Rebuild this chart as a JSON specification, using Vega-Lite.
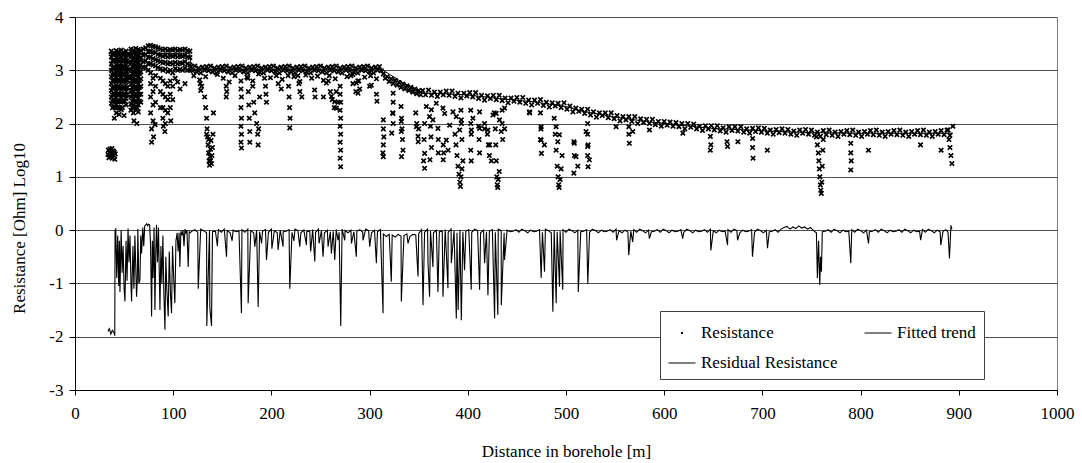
{
"$schema":"https://vega.github.io/schema/vega-lite/v6.json",
"width":982,"height":373,
"autosize":"none",
"padding":{"left":75,"top":17,"right":25,"bottom":73},
"background":"white",
"config":{
"font":"Liberation Serif",
"view":{"stroke":"#808080","strokeWidth":1},
"axis":{"labelFont":"Liberation Serif","titleFont":"Liberation Serif","labelFontSize":17,"titleFontSize":17,"titleFontWeight":"normal","labelColor":"black","titleColor":"black","domainColor":"black","tickColor":"black","domainWidth":1,"tickWidth":1},
"legend":{"labelFont":"Liberation Serif","labelFontSize":17,"labelColor":"black"}
},
"datasets":{
"trend":[{"d":34,"t":3.31},{"d":117,"t":3.32},{"d":118.5,"t":3.02},{"d":200,"t":3.02},{"d":312,"t":3.02},{"d":332,"t":2.79},{"d":354,"t":2.57},{"d":364,"t":2.57},{"d":398,"t":2.54},{"d":432,"t":2.47},{"d":466,"t":2.41},{"d":500,"t":2.32},{"d":514,"t":2.24},{"d":548,"t":2.13},{"d":581,"t":2.04},{"d":615,"t":1.97},{"d":649,"t":1.91},{"d":683,"t":1.88},{"d":717,"t":1.85},{"d":751,"t":1.83},{"d":800,"t":1.82},{"d":894,"t":1.82}],
"resid":[
{"d":33.5,"e":-1.9},{"d":35,"e":-1.85},{"d":36.5,"e":-1.95},{"d":38,"e":-1.88},{"d":39.5,"e":-1.92},{"d":40.5,"e":-1.98},{"d":40.8,"e":0.0},
{"d":41.5,"e":0.02},{"d":42.5,"e":-0.9},{"d":43.5,"e":-0.1},{"d":44.5,"e":-1.05},{"d":45.2,"e":-0.2},{"d":45.8,"e":-1.16},{"d":47,"e":0.0},{"d":48,"e":-0.8},{"d":49,"e":-0.3},{"d":50,"e":-1.1},{"d":50.9,"e":-1.34},{"d":52,"e":-0.2},{"d":53,"e":-0.95},{"d":54,"e":0.03},{"d":55,"e":-0.6},{"d":56,"e":-0.1},{"d":57,"e":-1.0},{"d":57.6,"e":-1.34},{"d":59,"e":-0.3},{"d":60,"e":-1.1},{"d":61,"e":-0.1},{"d":62.7,"e":-1.25},{"d":63.5,"e":-0.9},{"d":64,"e":0.02},{"d":65,"e":-1.0},{"d":66.1,"e":-0.94},{"d":67,"e":-0.1},{"d":67.8,"e":-0.44},{"d":69,"e":0.05},{"d":70,"e":-0.3},{"d":71,"e":0.08},
{"d":72,"e":0.1},{"d":73,"e":0.12},{"d":74,"e":0.08},{"d":75,"e":0.11},{"d":76,"e":0.1},{"d":77,"e":-0.3},{"d":78,"e":-1.62},{"d":78.8,"e":-0.2},{"d":79.5,"e":-0.9},{"d":80.5,"e":0.05},{"d":81.4,"e":-1.5},{"d":82.3,"e":-0.4},{"d":83,"e":0.1},{"d":84,"e":-0.6},{"d":85,"e":0.05},{"d":86.5,"e":-1.5},{"d":87.5,"e":-0.3},{"d":88.5,"e":-1.0},{"d":89.5,"e":-0.1},{"d":90.5,"e":-1.2},{"d":91.6,"e":-1.87},{"d":92.5,"e":-0.5},{"d":93.5,"e":-1.1},{"d":94.9,"e":-1.62},{"d":96,"e":-0.4},{"d":97.2,"e":-1.2},{"d":98.3,"e":-1.56},{"d":99.3,"e":-0.3},{"d":100.5,"e":-0.9},{"d":101.7,"e":-1.37},{"d":102.8,"e":-0.2},{"d":104,"e":-0.05},{"d":105,"e":-0.4},{"d":106,"e":-0.05},{"d":106.8,"e":-0.69},{"d":107.8,"e":-0.02},{"d":109,"e":-0.1},{"d":110,"e":0.0},{"d":111,"e":-0.3},{"d":112,"e":0.02},{"d":113,"e":-0.05},{"d":114,"e":0.0},{"d":115.3,"e":-0.69},{"d":116.3,"e":-0.03},{"d":117.3,"e":-0.05},
{"d":119,"e":-0.02},{"d":122,"e":0.01},{"d":125,"e":-0.04},{"d":128,"e":0.02},{"d":131,"e":-0.01},{"d":134,"e":-0.05},{"d":137,"e":0},{"d":140,"e":-0.03},
{"d":143,"e":-0.02},{"d":146,"e":0.01},{"d":149,"e":-0.04},{"d":152,"e":0.02},{"d":155,"e":-0.01},{"d":158,"e":-0.05},{"d":161,"e":0},{"d":164,"e":-0.03},
{"d":167,"e":-0.02},{"d":170,"e":0.01},{"d":173,"e":-0.04},{"d":176,"e":0.02},{"d":179,"e":-0.01},{"d":182,"e":-0.05},{"d":185,"e":0},{"d":188,"e":-0.03},
{"d":191,"e":-0.02},{"d":194,"e":0.01},{"d":197,"e":-0.04},{"d":200,"e":0.02},{"d":203,"e":-0.01},{"d":206,"e":-0.05},{"d":209,"e":0},{"d":212,"e":-0.03},
{"d":215,"e":-0.02},{"d":218,"e":0.01},{"d":221,"e":-0.04},{"d":224,"e":0.02},{"d":227,"e":-0.01},{"d":230,"e":-0.05},{"d":233,"e":0},{"d":236,"e":-0.03},
{"d":239,"e":-0.02},{"d":242,"e":0.01},{"d":245,"e":-0.04},{"d":248,"e":0.02},{"d":251,"e":-0.01},{"d":254,"e":-0.05},{"d":257,"e":0},{"d":260,"e":-0.03},
{"d":263,"e":-0.02},{"d":266,"e":0.01},{"d":269,"e":-0.04},{"d":272,"e":0.02},{"d":275,"e":-0.01},{"d":278,"e":-0.05},{"d":281,"e":0},{"d":284,"e":-0.03},
{"d":287,"e":-0.02},{"d":290,"e":0.01},{"d":293,"e":-0.04},{"d":296,"e":0.02},{"d":299,"e":-0.01},{"d":302,"e":-0.05},{"d":305,"e":0},{"d":308,"e":-0.03},
{"d":311,"e":0.01},
{"d":314,"e":-0.07},{"d":317,"e":-0.12},{"d":320,"e":-0.08},{"d":323,"e":-0.09},{"d":326,"e":-0.13},{"d":329,"e":-0.08},{"d":332,"e":-0.11},{"d":335,"e":-0.1},{"d":338,"e":-0.07},{"d":341,"e":-0.12},{"d":344,"e":-0.08},{"d":347,"e":-0.09},{"d":350,"e":-0.06},
{"d":353,"e":0.01},{"d":356,"e":-0.04},{"d":359,"e":0.02},{"d":362,"e":-0.01},{"d":365,"e":-0.05},{"d":368,"e":0},{"d":371,"e":-0.03},
{"d":374,"e":-0.02},{"d":377,"e":0.01},{"d":380,"e":-0.04},{"d":383,"e":0.02},{"d":386,"e":-0.01},{"d":389,"e":-0.05},{"d":392,"e":0},{"d":395,"e":-0.03},
{"d":398,"e":-0.02},{"d":401,"e":0.01},{"d":404,"e":-0.04},{"d":407,"e":0.02},{"d":410,"e":-0.01},{"d":413,"e":-0.05},{"d":416,"e":0},{"d":419,"e":-0.03},
{"d":422,"e":-0.02},{"d":425,"e":0.01},{"d":428,"e":-0.04},{"d":431,"e":0.02},{"d":434,"e":-0.01},{"d":437,"e":-0.05},{"d":440,"e":0},{"d":443,"e":-0.03},
{"d":446,"e":-0.02},{"d":449,"e":0.01},{"d":452,"e":-0.04},{"d":455,"e":0.02},{"d":458,"e":-0.01},{"d":461,"e":-0.05},{"d":464,"e":0},{"d":467,"e":-0.03},
{"d":470,"e":-0.02},{"d":473,"e":0.01},{"d":476,"e":-0.04},{"d":479,"e":0.02},{"d":482,"e":-0.01},{"d":485,"e":-0.05},{"d":488,"e":0},{"d":491,"e":-0.03},
{"d":494,"e":-0.02},{"d":497,"e":0.01},{"d":500,"e":-0.04},{"d":503,"e":0.02},{"d":506,"e":-0.01},{"d":509,"e":-0.05},{"d":512,"e":0},{"d":515,"e":-0.03},
{"d":518,"e":-0.02},{"d":521,"e":0.01},{"d":524,"e":-0.04},{"d":527,"e":0.02},{"d":530,"e":-0.01},{"d":533,"e":-0.05},{"d":536,"e":0},{"d":539,"e":-0.03},
{"d":542,"e":-0.02},{"d":545,"e":0.01},{"d":548,"e":-0.04},{"d":551,"e":0.02},{"d":554,"e":-0.01},{"d":557,"e":-0.05},{"d":560,"e":0},{"d":563,"e":-0.03},
{"d":566,"e":-0.02},{"d":569,"e":0.01},{"d":572,"e":-0.04},{"d":575,"e":0.02},{"d":578,"e":-0.01},{"d":581,"e":-0.05},{"d":584,"e":0},{"d":587,"e":-0.03},
{"d":590,"e":-0.02},{"d":593,"e":0.01},{"d":596,"e":-0.04},{"d":599,"e":0.02},{"d":602,"e":-0.01},{"d":605,"e":-0.05},{"d":608,"e":0},{"d":611,"e":-0.03},
{"d":614,"e":-0.02},{"d":617,"e":0.01},{"d":620,"e":-0.04},{"d":623,"e":0.02},{"d":626,"e":-0.01},{"d":629,"e":-0.05},{"d":632,"e":0},{"d":635,"e":-0.03},
{"d":638,"e":-0.02},{"d":641,"e":0.01},{"d":644,"e":-0.04},{"d":647,"e":0.02},{"d":650,"e":-0.01},{"d":653,"e":-0.05},{"d":656,"e":0},{"d":659,"e":-0.03},
{"d":662,"e":-0.02},{"d":665,"e":0.01},{"d":668,"e":-0.04},{"d":671,"e":0.02},{"d":674,"e":-0.01},{"d":677,"e":-0.05},{"d":680,"e":0},{"d":683,"e":-0.03},
{"d":686,"e":-0.02},{"d":689,"e":0.01},{"d":692,"e":-0.04},{"d":695,"e":0.02},{"d":698,"e":-0.01},{"d":701,"e":-0.05},{"d":704,"e":0},{"d":707,"e":-0.03},
{"d":710,"e":-0.02},{"d":713,"e":0.01},{"d":716,"e":-0.04},{"d":719,"e":0.02},
{"d":722,"e":0.05},{"d":725,"e":0.07},{"d":728,"e":0.02},{"d":731,"e":0.06},{"d":734,"e":0.03},{"d":737,"e":0.08},{"d":740,"e":0.04},{"d":743,"e":0.06},{"d":746,"e":0.02},{"d":749,"e":0.05},
{"d":752,"e":-0.01},{"d":755,"e":-0.05},{"d":757.2,"e":-0.2},{"d":761,"e":-0.03},
{"d":764,"e":-0.02},{"d":767,"e":0.01},{"d":770,"e":-0.04},{"d":773,"e":0.02},{"d":776,"e":-0.01},{"d":779,"e":-0.05},{"d":782,"e":0},{"d":785,"e":-0.03},
{"d":788,"e":-0.02},{"d":791,"e":0.01},{"d":794,"e":-0.04},{"d":797,"e":0.02},{"d":800,"e":-0.01},{"d":803,"e":-0.05},{"d":806,"e":0},{"d":809,"e":-0.03},
{"d":812,"e":-0.02},{"d":815,"e":0.01},{"d":818,"e":-0.04},{"d":821,"e":0.02},{"d":824,"e":-0.01},{"d":827,"e":-0.05},{"d":830,"e":0},{"d":833,"e":-0.03},
{"d":836,"e":-0.02},{"d":839,"e":0.01},{"d":842,"e":-0.04},{"d":845,"e":0.02},{"d":848,"e":-0.01},{"d":851,"e":-0.05},{"d":854,"e":0},{"d":857,"e":-0.03},
{"d":860,"e":-0.02},{"d":863,"e":0.01},{"d":866,"e":-0.04},{"d":869,"e":0.02},{"d":872,"e":-0.01},{"d":875,"e":-0.05},{"d":878,"e":0},{"d":881,"e":-0.03},
{"d":884,"e":-0.02},{"d":887,"e":0.01},{"d":889,"e":-0.04},{"d":893,"e":0.02},
{"d":125.5,"e":-1.1},{"d":134.2,"e":-1.8},{"d":137.3,"e":-1.45},{"d":139,"e":-1.8},{"d":145,"e":-0.3},{"d":154.3,"e":-0.5},{"d":160,"e":-0.2},{"d":169.5,"e":-1.56},{"d":176.3,"e":-1.37},{"d":183.1,"e":-0.31},{"d":186.5,"e":-1.44},{"d":190,"e":-0.25},{"d":195,"e":-0.56},{"d":200.5,"e":-0.35},{"d":206.8,"e":-0.37},{"d":211.9,"e":-0.31},{"d":218.7,"e":-1.1},{"d":223,"e":-0.2},{"d":228.9,"e":-0.31},{"d":235.7,"e":-0.28},{"d":240,"e":-0.4},{"d":244.2,"e":-0.59},{"d":248.5,"e":-0.25},{"d":252.6,"e":-0.5},{"d":257.7,"e":-0.31},{"d":261.1,"e":-0.44},{"d":264.5,"e":-0.56},{"d":267.9,"e":-0.19},{"d":270.6,"e":-1.8},{"d":274.7,"e":-0.19},{"d":281.5,"e":-0.25},{"d":286.5,"e":-0.5},{"d":293.3,"e":-0.19},{"d":300.1,"e":-0.31},{"d":306.9,"e":-0.62},{"d":313.7,"e":-1.56},{"d":322.1,"e":-0.97},{"d":332.3,"e":-1.34},{"d":339.1,"e":-0.25},{"d":349.3,"e":-0.87},{"d":354.4,"e":-1.41},{"d":359.5,"e":-0.62},{"d":361.1,"e":-1.25},{"d":364.5,"e":-0.69},{"d":369.6,"e":-1.16},{"d":374.7,"e":-1.25},{"d":379.8,"e":-1.09},{"d":383.2,"e":-0.62},{"d":388.3,"e":-1.66},{"d":390.2,"e":-1.5},{"d":393.4,"e":-1.69},{"d":396.7,"e":-0.75},{"d":403.5,"e":-1.12},{"d":412,"e":-1.12},{"d":417.1,"e":-0.62},{"d":420.5,"e":-1.22},{"d":427.3,"e":-1.66},{"d":430.6,"e":-1.59},{"d":434.1,"e":-1.41},{"d":437.4,"e":-0.56},{"d":474.7,"e":-0.9},{"d":478.1,"e":-0.78},{"d":486.6,"e":-1.53},{"d":490,"e":-1.37},{"d":493.4,"e":-1.06},{"d":496.7,"e":-1.12},{"d":512.5,"e":-1.16},{"d":522.2,"e":-1.0},{"d":551.5,"e":-0.19},{"d":563.9,"e":-0.47},{"d":567.9,"e":-0.22},{"d":584.9,"e":-0.16},{"d":618.8,"e":-0.16},{"d":647.5,"e":-0.38},{"d":664.5,"e":-0.28},{"d":674.7,"e":-0.19},{"d":689.9,"e":-0.5},{"d":705.2,"e":-0.34},{"d":756,"e":-0.9},{"d":758.4,"e":-1.03},{"d":759.3,"e":-0.5},{"d":760.1,"e":-0.78},{"d":790,"e":-0.62},{"d":808,"e":-0.25},{"d":861.2,"e":-0.19},{"d":881.6,"e":-0.28},{"d":890.5,"e":-0.53},{"d":892,"e":0.09}
],
"res":[
{"d":33.5,"r":1.42},{"d":34,"r":1.5},{"d":34.5,"r":1.36},{"d":35,"r":1.46},{"d":35.5,"r":1.52},{"d":36,"r":1.38},{"d":36.5,"r":1.47},{"d":37,"r":1.41},{"d":37.5,"r":1.53},{"d":38,"r":1.35},{"d":38.5,"r":1.44},{"d":39,"r":1.49},{"d":39.5,"r":1.4},{"d":40,"r":1.46},{"d":40.5,"r":1.33},{"d":41,"r":1.43},
{"d":37,"r":3.36},{"d":37,"r":3.25},{"d":37,"r":3.12},{"d":37,"r":3.0},{"d":37,"r":2.88},{"d":37,"r":2.75},{"d":37,"r":2.62},{"d":37,"r":2.5},{"d":37,"r":2.38},
{"d":39.5,"r":3.33},{"d":39.5,"r":3.2},{"d":39.5,"r":3.07},{"d":39.5,"r":2.95},{"d":39.5,"r":2.82},{"d":39.5,"r":2.7},{"d":39.5,"r":2.57},{"d":39.5,"r":2.45},{"d":39.5,"r":2.32},{"d":40,"r":2.1},
{"d":42,"r":3.37},{"d":42,"r":3.24},{"d":42,"r":3.1},{"d":42,"r":2.98},{"d":42,"r":2.85},{"d":42,"r":2.72},{"d":42,"r":2.6},{"d":42,"r":2.48},{"d":42,"r":2.35},{"d":42,"r":2.2},
{"d":44.5,"r":3.35},{"d":44.5,"r":3.22},{"d":44.5,"r":3.09},{"d":44.5,"r":2.96},{"d":44.5,"r":2.83},{"d":44.5,"r":2.7},{"d":44.5,"r":2.56},{"d":44.5,"r":2.42},{"d":44.5,"r":2.3},{"d":45,"r":2.17},
{"d":47,"r":3.38},{"d":47,"r":3.26},{"d":47,"r":3.13},{"d":47,"r":3.0},{"d":47,"r":2.88},{"d":47,"r":2.76},{"d":47,"r":2.63},{"d":47,"r":2.5},{"d":47,"r":2.4},{"d":47,"r":2.26},
{"d":49.5,"r":3.34},{"d":49.5,"r":3.21},{"d":49.5,"r":3.08},{"d":49.5,"r":2.95},{"d":49.5,"r":2.82},{"d":49.5,"r":2.68},{"d":49.5,"r":2.55},{"d":49.5,"r":2.43},{"d":50,"r":2.15},
{"d":52,"r":3.36},{"d":52,"r":3.23},{"d":52,"r":3.1},{"d":52,"r":2.97},{"d":52,"r":2.85},{"d":52,"r":2.72},{"d":52,"r":2.6},{"d":52,"r":2.47},{"d":52,"r":2.35},
{"d":54.5,"r":3.3},{"d":54.5,"r":3.15},{"d":54.5,"r":3.0},{"d":54.5,"r":2.85},
{"d":57,"r":3.4},{"d":57,"r":3.27},{"d":57,"r":3.14},{"d":57,"r":3.01},{"d":57,"r":2.88},{"d":57,"r":2.75},{"d":57,"r":2.62},{"d":57,"r":2.5},{"d":57,"r":2.37},{"d":57,"r":2.25},
{"d":59.5,"r":3.38},{"d":59.5,"r":3.25},{"d":59.5,"r":3.12},{"d":59.5,"r":2.99},{"d":59.5,"r":2.86},{"d":59.5,"r":2.73},{"d":59.5,"r":2.6},{"d":59.5,"r":2.47},{"d":59.5,"r":2.34},{"d":59.5,"r":2.2},{"d":60,"r":2.05},
{"d":62,"r":3.41},{"d":62,"r":3.28},{"d":62,"r":3.15},{"d":62,"r":3.02},{"d":62,"r":2.9},{"d":62,"r":2.77},{"d":62,"r":2.64},{"d":62,"r":2.51},{"d":62,"r":2.39},{"d":62,"r":2.26},
{"d":64.5,"r":3.39},{"d":64.5,"r":3.26},{"d":64.5,"r":3.13},{"d":64.5,"r":3.0},{"d":64.5,"r":2.87},{"d":64.5,"r":2.74},{"d":64.5,"r":2.61},{"d":64.5,"r":2.48},{"d":64.5,"r":2.35},{"d":64.5,"r":2.22},{"d":63,"r":2.0},
{"d":67,"r":3.37},{"d":67,"r":3.24},{"d":67,"r":3.1},{"d":67,"r":2.97},{"d":67,"r":2.84},{"d":67,"r":2.7},{"d":67,"r":2.55},{"d":67,"r":2.4},
{"d":38.2,"r":3.3},{"d":38.2,"r":3.18},{"d":38.2,"r":3.05},{"d":38.2,"r":2.92},{"d":38.2,"r":2.8},{"d":38.2,"r":2.67},{"d":38.2,"r":2.54},{"d":38.2,"r":2.42},{"d":38.2,"r":2.3},
{"d":40.7,"r":3.3},{"d":40.7,"r":3.18},{"d":40.7,"r":3.05},{"d":40.7,"r":2.92},{"d":40.7,"r":2.8},{"d":40.7,"r":2.67},{"d":40.7,"r":2.54},{"d":40.7,"r":2.42},{"d":40.7,"r":2.3},
{"d":43.2,"r":3.3},{"d":43.2,"r":3.18},{"d":43.2,"r":3.05},{"d":43.2,"r":2.92},{"d":43.2,"r":2.8},{"d":43.2,"r":2.67},{"d":43.2,"r":2.54},{"d":43.2,"r":2.42},{"d":43.2,"r":2.3},
{"d":45.7,"r":3.3},{"d":45.7,"r":3.18},{"d":45.7,"r":3.05},{"d":45.7,"r":2.92},{"d":45.7,"r":2.8},{"d":45.7,"r":2.67},{"d":45.7,"r":2.54},{"d":45.7,"r":2.42},{"d":45.7,"r":2.3},
{"d":48.2,"r":3.3},{"d":48.2,"r":3.18},{"d":48.2,"r":3.05},{"d":48.2,"r":2.92},{"d":48.2,"r":2.8},{"d":48.2,"r":2.67},{"d":48.2,"r":2.54},{"d":48.2,"r":2.42},{"d":48.2,"r":2.3},
{"d":50.7,"r":3.3},{"d":50.7,"r":3.18},{"d":50.7,"r":3.05},{"d":50.7,"r":2.92},{"d":50.7,"r":2.8},{"d":50.7,"r":2.67},{"d":50.7,"r":2.54},{"d":50.7,"r":2.42},
{"d":53.2,"r":3.3},{"d":53.2,"r":3.18},{"d":53.2,"r":3.05},{"d":53.2,"r":2.92},{"d":53.2,"r":2.8},{"d":53.2,"r":2.67},{"d":53.2,"r":2.54},
{"d":58.2,"r":3.33},{"d":58.2,"r":3.2},{"d":58.2,"r":3.07},{"d":58.2,"r":2.94},{"d":58.2,"r":2.81},{"d":58.2,"r":2.68},{"d":58.2,"r":2.55},{"d":58.2,"r":2.42},{"d":58.2,"r":2.3},
{"d":60.7,"r":3.33},{"d":60.7,"r":3.2},{"d":60.7,"r":3.07},{"d":60.7,"r":2.94},{"d":60.7,"r":2.81},{"d":60.7,"r":2.68},{"d":60.7,"r":2.55},{"d":60.7,"r":2.42},{"d":60.7,"r":2.3},
{"d":63.2,"r":3.33},{"d":63.2,"r":3.2},{"d":63.2,"r":3.07},{"d":63.2,"r":2.94},{"d":63.2,"r":2.81},{"d":63.2,"r":2.68},{"d":63.2,"r":2.55},{"d":63.2,"r":2.42},{"d":63.2,"r":2.3},
{"d":65.7,"r":3.33},{"d":65.7,"r":3.2},{"d":65.7,"r":3.07},{"d":65.7,"r":2.94},{"d":65.7,"r":2.81},{"d":65.7,"r":2.68},{"d":65.7,"r":2.55},{"d":65.7,"r":2.42},
{"d":69.5,"r":3.4},{"d":69.5,"r":3.28},{"d":69.5,"r":3.16},{"d":69.5,"r":3.05},
{"d":72,"r":3.42},{"d":72,"r":3.3},{"d":72,"r":3.18},{"d":72,"r":3.06},
{"d":74.5,"r":3.46},{"d":74.5,"r":3.35},{"d":74.5,"r":3.24},{"d":74.5,"r":3.12},{"d":74.5,"r":3.0},
{"d":77,"r":3.47},{"d":77,"r":3.36},{"d":77,"r":3.25},{"d":77,"r":3.13},{"d":77,"r":2.95},{"d":77,"r":2.75},{"d":77,"r":2.5},{"d":77,"r":2.2},{"d":78,"r":1.9},{"d":78,"r":1.65},
{"d":79.5,"r":3.45},{"d":79.5,"r":3.34},{"d":79.5,"r":3.22},{"d":79.5,"r":3.1},{"d":79.5,"r":2.85},{"d":79.5,"r":2.6},{"d":79.5,"r":2.35},{"d":79.5,"r":2.05},{"d":80,"r":1.75},
{"d":82,"r":3.44},{"d":82,"r":3.33},{"d":82,"r":3.2},{"d":82,"r":3.08},{"d":82,"r":2.9},{"d":82,"r":2.7},{"d":82,"r":2.4},{"d":81.5,"r":1.98},
{"d":84.5,"r":3.42},{"d":84.5,"r":3.3},{"d":84.5,"r":3.18},{"d":84.5,"r":3.05},
{"d":87,"r":3.4},{"d":87,"r":3.28},{"d":87,"r":3.16},{"d":87,"r":3.03},{"d":87,"r":2.85},{"d":87,"r":2.6},{"d":87,"r":2.3},
{"d":89.5,"r":3.38},{"d":89.5,"r":3.26},{"d":89.5,"r":3.14},{"d":89.5,"r":3.0},{"d":89.5,"r":2.8},{"d":89.5,"r":2.55},{"d":89.5,"r":2.3},{"d":89.5,"r":2.1},{"d":90,"r":1.95},
{"d":92,"r":3.4},{"d":92,"r":3.28},{"d":92,"r":3.15},{"d":92,"r":3.02},{"d":92,"r":2.75},{"d":92,"r":2.5},{"d":92,"r":2.25},{"d":92,"r":2.0},{"d":91.5,"r":1.85},
{"d":94.5,"r":3.37},{"d":94.5,"r":3.25},{"d":94.5,"r":3.12},{"d":94.5,"r":2.98},{"d":94.5,"r":2.7},{"d":94.5,"r":2.45},{"d":94.5,"r":2.2},
{"d":97,"r":3.39},{"d":97,"r":3.27},{"d":97,"r":3.14},{"d":97,"r":3.0},{"d":97,"r":2.8},{"d":97,"r":2.55},{"d":97,"r":2.3},{"d":97.5,"r":2.05},
{"d":99.5,"r":3.38},{"d":99.5,"r":3.26},{"d":99.5,"r":3.12},{"d":99.5,"r":2.95},{"d":99.5,"r":2.7},{"d":99.5,"r":2.45},
{"d":102,"r":3.4},{"d":102,"r":3.28},{"d":102,"r":3.15},{"d":102,"r":3.03},{"d":102,"r":2.85},
{"d":104.5,"r":3.37},{"d":104.5,"r":3.25},{"d":104.5,"r":3.12},{"d":104.5,"r":3.0},{"d":104.5,"r":2.78},
{"d":107,"r":3.39},{"d":107,"r":3.27},{"d":107,"r":3.14},{"d":107,"r":3.02},{"d":107,"r":2.65},
{"d":109.5,"r":3.38},{"d":109.5,"r":3.26},{"d":109.5,"r":3.13},{"d":109.5,"r":3.0},
{"d":112,"r":3.4},{"d":112,"r":3.28},{"d":112,"r":3.16},{"d":112,"r":3.04},{"d":112,"r":2.75},
{"d":114.5,"r":3.37},{"d":114.5,"r":3.25},{"d":114.5,"r":3.12},{"d":114.5,"r":3.0},
{"d":117,"r":3.36},{"d":117,"r":3.24},{"d":117,"r":3.1},{"d":117,"r":3.0},
{"d":118,"r":3.07},{"d":120,"r":2.99},{"d":122,"r":3.08},{"d":124,"r":2.97},{"d":126,"r":3.04},{"d":128,"r":2.95},{"d":130,"r":3.06},{"d":132,"r":3.0},
{"d":134,"r":3.07},{"d":136,"r":2.99},{"d":138,"r":3.08},{"d":140,"r":2.97},{"d":142,"r":3.04},{"d":144,"r":2.95},{"d":146,"r":3.06},{"d":148,"r":3.0},
{"d":150,"r":3.07},{"d":152,"r":2.99},{"d":154,"r":3.08},{"d":156,"r":2.97},{"d":158,"r":3.04},{"d":160,"r":2.95},{"d":162,"r":3.06},{"d":164,"r":3.0},
{"d":166,"r":3.07},{"d":168,"r":2.99},{"d":170,"r":3.08},{"d":172,"r":2.97},{"d":174,"r":3.04},{"d":176,"r":2.95},{"d":178,"r":3.06},{"d":180,"r":3.0},
{"d":182,"r":3.07},{"d":184,"r":2.99},{"d":186,"r":3.08},{"d":188,"r":2.97},{"d":190,"r":3.04},{"d":192,"r":2.95},{"d":194,"r":3.06},{"d":196,"r":3.0},
{"d":198,"r":3.07},{"d":200,"r":2.99},{"d":202,"r":3.08},{"d":204,"r":2.97},{"d":206,"r":3.04},{"d":208,"r":2.95},{"d":210,"r":3.06},{"d":212,"r":3.0},
{"d":214,"r":3.07},{"d":216,"r":2.99},{"d":218,"r":3.08},{"d":220,"r":2.97},{"d":222,"r":3.04},{"d":224,"r":2.95},{"d":226,"r":3.06},{"d":228,"r":3.0},
{"d":230,"r":3.07},{"d":232,"r":2.99},{"d":234,"r":3.08},{"d":236,"r":2.97},{"d":238,"r":3.04},{"d":240,"r":2.95},{"d":242,"r":3.06},{"d":244,"r":3.0},
{"d":246,"r":3.07},{"d":248,"r":2.99},{"d":250,"r":3.08},{"d":252,"r":2.97},{"d":254,"r":3.04},{"d":256,"r":2.95},{"d":258,"r":3.06},{"d":260,"r":3.0},
{"d":262,"r":3.07},{"d":264,"r":2.99},{"d":266,"r":3.08},{"d":268,"r":2.97},{"d":270,"r":3.04},{"d":272,"r":2.95},{"d":274,"r":3.06},{"d":276,"r":3.0},
{"d":278,"r":3.07},{"d":280,"r":2.99},{"d":282,"r":3.08},{"d":284,"r":2.97},{"d":286,"r":3.04},{"d":288,"r":2.95},{"d":290,"r":3.06},{"d":292,"r":3.0},
{"d":294,"r":3.07},{"d":296,"r":2.99},{"d":298,"r":3.08},{"d":300,"r":2.97},{"d":302,"r":3.04},{"d":304,"r":2.95},{"d":306,"r":3.06},{"d":308,"r":3.0},
{"d":310,"r":3.07},{"d":312,"r":2.99},
{"d":121,"r":2.9},{"d":127,"r":2.82},{"d":133,"r":2.88},{"d":145,"r":2.92},{"d":151,"r":2.85},{"d":157,"r":2.78},{"d":163,"r":2.9},{"d":175,"r":2.87},{"d":181,"r":2.8},{"d":187,"r":2.93},{"d":199,"r":2.86},{"d":205,"r":2.9},{"d":211,"r":2.83},{"d":223,"r":2.88},{"d":229,"r":2.79},{"d":235,"r":2.91},{"d":241,"r":2.85},{"d":247,"r":2.89},{"d":253,"r":2.81},{"d":259,"r":2.9},{"d":265,"r":2.84},{"d":277,"r":2.88},{"d":283,"r":2.92},{"d":289,"r":2.8},{"d":295,"r":2.87},{"d":301,"r":2.9},{"d":307,"r":2.84},
{"d":127.5,"r":2.75},{"d":128,"r":2.62},{"d":129,"r":2.7},
{"d":132,"r":2.5},{"d":133,"r":2.3},{"d":134,"r":2.1},{"d":134.5,"r":1.9},{"d":135,"r":1.75},{"d":135.5,"r":1.6},{"d":136,"r":1.45},{"d":136.5,"r":1.3},{"d":137,"r":1.22},{"d":137.5,"r":1.38},{"d":138,"r":1.52},{"d":138.5,"r":1.68},{"d":139,"r":1.25},{"d":139.5,"r":1.4},{"d":140,"r":1.55},{"d":140.5,"r":1.8},{"d":141,"r":2.2},{"d":136,"r":1.7},{"d":138,"r":1.3},{"d":134,"r":1.8},
{"d":154,"r":2.7},{"d":154.5,"r":2.6},{"d":154,"r":2.5},
{"d":169,"r":2.8},{"d":169,"r":2.65},{"d":169.5,"r":2.5},{"d":169,"r":2.3},{"d":169.5,"r":2.1},{"d":169,"r":1.95},{"d":169.5,"r":1.8},{"d":169,"r":1.65},{"d":169.5,"r":1.54},
{"d":176,"r":2.85},{"d":176.5,"r":2.6},{"d":177,"r":2.35},{"d":177.5,"r":2.1},{"d":178,"r":1.85},{"d":178,"r":1.65},{"d":181,"r":2.7},{"d":182,"r":2.4},{"d":183,"r":2.2},{"d":185,"r":2.0},{"d":186,"r":1.8},{"d":186.5,"r":1.6},{"d":187,"r":1.9},{"d":188,"r":2.5},
{"d":193,"r":2.85},{"d":194,"r":2.7},{"d":194.5,"r":2.55},{"d":195,"r":2.4},
{"d":207,"r":2.75},{"d":210,"r":2.65},
{"d":217,"r":2.9},{"d":217.5,"r":2.7},{"d":218,"r":2.5},{"d":218.5,"r":2.3},{"d":219,"r":2.1},{"d":218.7,"r":1.92},
{"d":227,"r":2.9},{"d":228,"r":2.75},{"d":229,"r":2.6},{"d":231,"r":2.5},
{"d":244,"r":2.63},{"d":244.5,"r":2.5},{"d":253,"r":2.5},
{"d":258,"r":2.8},{"d":260,"r":2.6},{"d":262,"r":2.45},{"d":264,"r":2.3},{"d":266,"r":2.6},{"d":268,"r":2.4},
{"d":270,"r":2.7},{"d":270,"r":2.55},{"d":270.5,"r":2.4},{"d":270,"r":2.25},{"d":270.5,"r":2.1},{"d":270,"r":1.95},{"d":270.5,"r":1.8},{"d":270,"r":1.65},{"d":270.5,"r":1.5},{"d":270,"r":1.35},{"d":270.5,"r":1.19},
{"d":281,"r":2.9},{"d":283,"r":2.75},{"d":286,"r":2.6},{"d":288,"r":2.8},{"d":290,"r":2.65},
{"d":300,"r":2.7},{"d":307,"r":2.55},{"d":307.5,"r":2.42},
{"d":314,"r":2.07},{"d":314,"r":1.9},{"d":314.5,"r":1.75},{"d":314,"r":1.6},{"d":313.5,"r":1.45},{"d":314,"r":1.38},
{"d":324,"r":2.57},{"d":324,"r":2.4},{"d":323.5,"r":2.2},{"d":324,"r":2.0},{"d":322.5,"r":1.82},
{"d":332,"r":2.32},{"d":332.5,"r":2.1},{"d":333,"r":1.9},{"d":333.5,"r":1.7},{"d":334,"r":1.5},{"d":332.5,"r":1.38},
{"d":347,"r":2.2},{"d":348,"r":2.0},{"d":350,"r":1.9},{"d":349.5,"r":1.66},
{"d":356,"r":2.0},{"d":355.5,"r":1.7},{"d":356,"r":1.44},{"d":355,"r":1.3},{"d":356,"r":1.16},
{"d":361,"r":2.13},{"d":362,"r":1.95},{"d":362.5,"r":1.75},{"d":363,"r":1.55},{"d":361.5,"r":1.32},
{"d":370,"r":1.7},{"d":370,"r":1.45},{"d":375,"r":1.6},{"d":375.5,"r":1.45},{"d":375,"r":1.32},{"d":380,"r":1.5},
{"d":387,"r":1.8},{"d":388,"r":1.6},{"d":389,"r":1.4},{"d":390,"r":1.2},{"d":391,"r":1.05},{"d":392,"r":0.9},{"d":392.5,"r":0.82},{"d":393,"r":1.0},{"d":394,"r":1.15},{"d":395,"r":1.3},{"d":393,"r":2.25},{"d":393.5,"r":2.0},{"d":394,"r":1.7},
{"d":403,"r":2.25},{"d":403,"r":2.0},{"d":403.5,"r":1.8},{"d":403,"r":1.5},{"d":403.5,"r":1.3},
{"d":411,"r":1.95},{"d":411.5,"r":1.7},{"d":412,"r":1.45},{"d":417,"r":2.0},{"d":417,"r":1.9},
{"d":420,"r":1.8},{"d":421,"r":1.6},{"d":422,"r":1.4},{"d":424,"r":1.3},
{"d":427,"r":2.2},{"d":428,"r":1.9},{"d":428.5,"r":1.6},{"d":429,"r":1.3},{"d":429.5,"r":1.0},{"d":430,"r":0.85},{"d":430.5,"r":0.8},{"d":431,"r":0.95},{"d":432,"r":1.1},
{"d":435,"r":2.25},{"d":435,"r":2.0},{"d":435.5,"r":1.7},{"d":437.5,"r":1.9},
{"d":463,"r":2.2},{"d":474,"r":2.2},{"d":474.5,"r":1.9},{"d":474,"r":1.7},{"d":475,"r":1.44},{"d":478,"r":1.6},
{"d":488,"r":2.1},{"d":489,"r":1.8},{"d":490,"r":1.5},{"d":491,"r":1.2},{"d":492,"r":1.0},{"d":492.5,"r":0.85},{"d":493,"r":0.8},{"d":494,"r":0.95},{"d":495,"r":1.15},{"d":496,"r":1.4},
{"d":508,"r":1.66},{"d":508.5,"r":1.4},{"d":508,"r":1.07},{"d":512,"r":1.2},
{"d":522,"r":2.0},{"d":522,"r":1.8},{"d":522.5,"r":1.6},{"d":522,"r":1.4},{"d":522.5,"r":1.19},
{"d":256,"r":2.76},{"d":261.1,"r":2.51},{"d":264.5,"r":2.41},{"d":266.2,"r":2.29},{"d":286.5,"r":2.76},{"d":288.2,"r":2.57},{"d":301.8,"r":2.72},{"d":323.8,"r":2.19},{"d":332.3,"r":2.04},{"d":332.3,"r":1.85},{"d":347.6,"r":1.94},{"d":349.3,"r":1.76},{"d":357.8,"r":2.32},{"d":362.9,"r":2.26},{"d":364.5,"r":2.07},{"d":367.9,"r":2.38},{"d":369.6,"r":1.91},{"d":374.7,"r":2.29},{"d":376.4,"r":2.19},{"d":378.1,"r":1.69},{"d":381.5,"r":1.97},{"d":384.9,"r":2.22},{"d":388.3,"r":2.13},{"d":391.7,"r":1.88},{"d":393.4,"r":2.07},{"d":403.6,"r":1.88},{"d":405.2,"r":2.1},{"d":412,"r":2.22},{"d":412,"r":1.91},{"d":420.5,"r":1.88},{"d":422.2,"r":1.6},{"d":425.6,"r":2.16},{"d":429,"r":2.19},{"d":432.3,"r":2.07},{"d":434,"r":1.85},{"d":437.4,"r":2.29},{"d":462.8,"r":2.22},{"d":474.7,"r":1.94},{"d":474.7,"r":1.69},{"d":489.9,"r":1.94},{"d":491.6,"r":1.66},{"d":493.3,"r":1.79},{"d":508.5,"r":1.63},{"d":510.2,"r":1.38},{"d":520.4,"r":1.85},{"d":522.1,"r":1.57},{"d":523.8,"r":1.32},
{"d":551,"r":1.94},{"d":564,"r":1.94},{"d":564,"r":1.8},{"d":564.5,"r":1.63},{"d":568,"r":1.85},{"d":585,"r":1.88},{"d":619,"r":1.82},
{"d":647,"r":1.76},{"d":647.5,"r":1.6},{"d":647,"r":1.5},{"d":664,"r":1.66},{"d":664.5,"r":1.57},{"d":675,"r":1.66},
{"d":690,"r":1.72},{"d":690,"r":1.55},{"d":690.5,"r":1.35},{"d":705,"r":1.5},
{"d":755,"r":1.75},{"d":756,"r":1.6},{"d":757,"r":1.45},{"d":757.5,"r":1.3},{"d":758,"r":1.15},{"d":758.5,"r":1.0},{"d":759,"r":0.85},{"d":759.5,"r":0.75},{"d":760,"r":0.69},{"d":760.5,"r":0.9},{"d":761,"r":1.2},{"d":761.5,"r":1.5},{"d":762,"r":1.7},
{"d":790,"r":1.63},{"d":790,"r":1.45},{"d":790.5,"r":1.3},{"d":790,"r":1.13},{"d":808,"r":1.5},{"d":861,"r":1.6},{"d":882,"r":1.5},
{"d":889,"r":1.88},{"d":890,"r":1.7},{"d":891,"r":1.55},{"d":892,"r":1.4},{"d":893,"r":1.25},{"d":894,"r":1.95},
{"d":314,"r":2.93},{"d":316,"r":2.85},{"d":318,"r":2.88},{"d":320,"r":2.79},{"d":322,"r":2.84},{"d":324,"r":2.75},{"d":326,"r":2.81},{"d":328,"r":2.72},{"d":330,"r":2.77},{"d":332,"r":2.68},{"d":334,"r":2.74},{"d":336,"r":2.65},{"d":338,"r":2.71},{"d":340,"r":2.62},{"d":342,"r":2.68},{"d":344,"r":2.59},{"d":346,"r":2.65},{"d":348,"r":2.56},{"d":350,"r":2.62},{"d":352,"r":2.54},
{"d":354,"r":2.62},{"d":357,"r":2.54},{"d":360,"r":2.63},{"d":363,"r":2.53},{"d":366,"r":2.59},{"d":369,"r":2.51},{"d":372,"r":2.59},{"d":375,"r":2.54},
{"d":378,"r":2.61},{"d":381,"r":2.53},{"d":384,"r":2.61},{"d":387,"r":2.51},{"d":390,"r":2.57},{"d":393,"r":2.48},{"d":396,"r":2.57},{"d":399,"r":2.52},
{"d":402,"r":2.58},{"d":405,"r":2.5},{"d":408,"r":2.58},{"d":411,"r":2.47},{"d":414,"r":2.53},{"d":417,"r":2.44},{"d":420,"r":2.52},{"d":423,"r":2.47},
{"d":426,"r":2.53},{"d":429,"r":2.45},{"d":432,"r":2.53},{"d":435,"r":2.43},{"d":438,"r":2.48},{"d":441,"r":2.39},{"d":444,"r":2.48},{"d":447,"r":2.42},
{"d":450,"r":2.49},{"d":453,"r":2.4},{"d":456,"r":2.49},{"d":459,"r":2.38},{"d":462,"r":2.44},{"d":465,"r":2.35},{"d":468,"r":2.44},{"d":471,"r":2.38},
{"d":474,"r":2.45},{"d":477,"r":2.34},{"d":480,"r":2.4},{"d":483,"r":2.31},{"d":486,"r":2.39},{"d":489,"r":2.33},{"d":492,"r":2.38},{"d":495,"r":2.3},
{"d":498,"r":2.39},{"d":501,"r":2.27},{"d":504,"r":2.33},{"d":507,"r":2.22},{"d":510,"r":2.29},{"d":513,"r":2.23},{"d":516,"r":2.27},{"d":519,"r":2.19},
{"d":522,"r":2.27},{"d":525,"r":2.16},{"d":528,"r":2.22},{"d":531,"r":2.12},{"d":534,"r":2.2},{"d":537,"r":2.15},{"d":540,"r":2.2},{"d":543,"r":2.11},
{"d":546,"r":2.2},{"d":549,"r":2.09},{"d":552,"r":2.15},{"d":555,"r":2.05},{"d":558,"r":2.13},{"d":561,"r":2.07},{"d":564,"r":2.13},{"d":567,"r":2.04},
{"d":570,"r":2.13},{"d":573,"r":2.0},{"d":576,"r":2.09},{"d":579,"r":2.02},{"d":582,"r":2.08},{"d":585,"r":2.0},{"d":588,"r":2.08},{"d":591,"r":1.98},
{"d":594,"r":2.04},{"d":597,"r":1.95},{"d":600,"r":2.04},{"d":603,"r":1.97},{"d":606,"r":2.03},{"d":609,"r":1.95},{"d":612,"r":2.02},{"d":615,"r":1.94},
{"d":618,"r":2.0},{"d":621,"r":1.9},{"d":624,"r":2.0},{"d":627,"r":1.93},{"d":630,"r":1.99},{"d":633,"r":1.9},{"d":636,"r":1.95},{"d":639,"r":1.87},
{"d":642,"r":1.96},{"d":645,"r":1.9},{"d":648,"r":1.96},{"d":651,"r":1.88},{"d":654,"r":1.96},{"d":657,"r":1.86},{"d":660,"r":1.92},{"d":663,"r":1.84},
{"d":666,"r":1.94},{"d":669,"r":1.87},{"d":672,"r":1.94},{"d":675,"r":1.86},{"d":678,"r":1.94},{"d":681,"r":1.84},{"d":684,"r":1.9},{"d":687,"r":1.82},
{"d":690,"r":1.91},{"d":693,"r":1.85},{"d":696,"r":1.92},{"d":699,"r":1.84},{"d":702,"r":1.91},{"d":705,"r":1.82},{"d":708,"r":1.88},{"d":711,"r":1.8},
{"d":714,"r":1.89},{"d":717,"r":1.83},{"d":720,"r":1.9},{"d":723,"r":1.82},{"d":726,"r":1.89},{"d":729,"r":1.8},{"d":732,"r":1.86},{"d":735,"r":1.78},
{"d":738,"r":1.88},{"d":741,"r":1.82},{"d":744,"r":1.89},{"d":747,"r":1.8},{"d":750,"r":1.88},{"d":753,"r":1.78},{"d":756,"r":1.84},{"d":759,"r":1.76},
{"d":762,"r":1.87},{"d":765,"r":1.79},{"d":768,"r":1.88},{"d":771,"r":1.78},{"d":774,"r":1.84},{"d":777,"r":1.76},{"d":780,"r":1.85},{"d":783,"r":1.8},
{"d":786,"r":1.87},{"d":789,"r":1.79},{"d":792,"r":1.88},{"d":795,"r":1.78},{"d":798,"r":1.84},{"d":801,"r":1.76},{"d":804,"r":1.85},{"d":807,"r":1.8},
{"d":810,"r":1.87},{"d":813,"r":1.79},{"d":816,"r":1.88},{"d":819,"r":1.78},{"d":822,"r":1.84},{"d":825,"r":1.76},{"d":828,"r":1.85},{"d":831,"r":1.8},
{"d":834,"r":1.87},{"d":837,"r":1.79},{"d":840,"r":1.88},{"d":843,"r":1.78},{"d":846,"r":1.84},{"d":849,"r":1.76},{"d":852,"r":1.85},{"d":855,"r":1.8},
{"d":858,"r":1.87},{"d":861,"r":1.79},{"d":864,"r":1.88},{"d":867,"r":1.78},{"d":870,"r":1.84},{"d":873,"r":1.76},{"d":876,"r":1.85},{"d":879,"r":1.8},
{"d":882,"r":1.87},{"d":885,"r":1.79},{"d":888,"r":1.88},{"d":891,"r":1.78}
]
},
"layer":[
{"data":{"name":"resid"},
 "mark":{"type":"line","color":"black","strokeWidth":1.1},
 "encoding":{
  "x":{"field":"d","type":"quantitative","title":"Distance in borehole [m]","scale":{"domain":[0,1000],"nice":false,"zero":false},
   "axis":{"values":[0,100,200,300,400,500,600,700,800,900,1000],"labelExpr":"'' + datum.value","grid":false,"tickSize":5,"labelPadding":10,"labelFlush":false,"titleY":61,"titleBaseline":"middle"}},
  "y":{"field":"e","type":"quantitative","title":"Resistance [Ohm] Log10","scale":{"domain":[-3,4],"nice":false,"zero":false},
   "axis":{"values":[-3,-2,-1,0,1,2,3,4],"labelExpr":"'' + datum.value","grid":true,"gridColor":"#505050","gridWidth":1,"tickSize":6,"labelPadding":6,"titleX":-56,"titleY":211,"titleAngle":270,"titleBaseline":"middle","titleAlign":"center"}}
 }},
{"data":{"name":"trend"},
 "mark":{"type":"line","color":"black","strokeWidth":1},
 "encoding":{
  "x":{"field":"d","type":"quantitative","title":"Distance in borehole [m]"},
  "y":{"field":"t","type":"quantitative","title":"Resistance [Ohm] Log10"}
 }},
{"data":{"name":"res"},
 "mark":{"type":"point","filled":false,"color":"black","strokeWidth":1.7,"size":3000,"opacity":1},
 "encoding":{
  "x":{"field":"d","type":"quantitative","title":"Distance in borehole [m]"},
  "y":{"field":"r","type":"quantitative","title":"Resistance [Ohm] Log10"},
  "shape":{"datum":"Resistance","type":"nominal",
   "scale":{"domain":["Resistance","Residual Resistance","Fitted trend"],"range":["M-0.08,-0.08L0.08,0.08M-0.08,0.08L0.08,-0.08","stroke","stroke"]},
   "legend":{"title":null,"orient":"none","legendX":585,"legendY":294,"columns":2,"columnPadding":24,"rowPadding":8,"padding":8,"strokeColor":"#404040","fillColor":"white","symbolSize":729,"symbolStrokeColor":"black","symbolStrokeWidth":1,"symbolFillColor":"transparent","labelOffset":5,"labelFontSize":17,"labelFont":"Liberation Serif","labelColor":"black","symbolOpacity":1}}
 }}
]
}
